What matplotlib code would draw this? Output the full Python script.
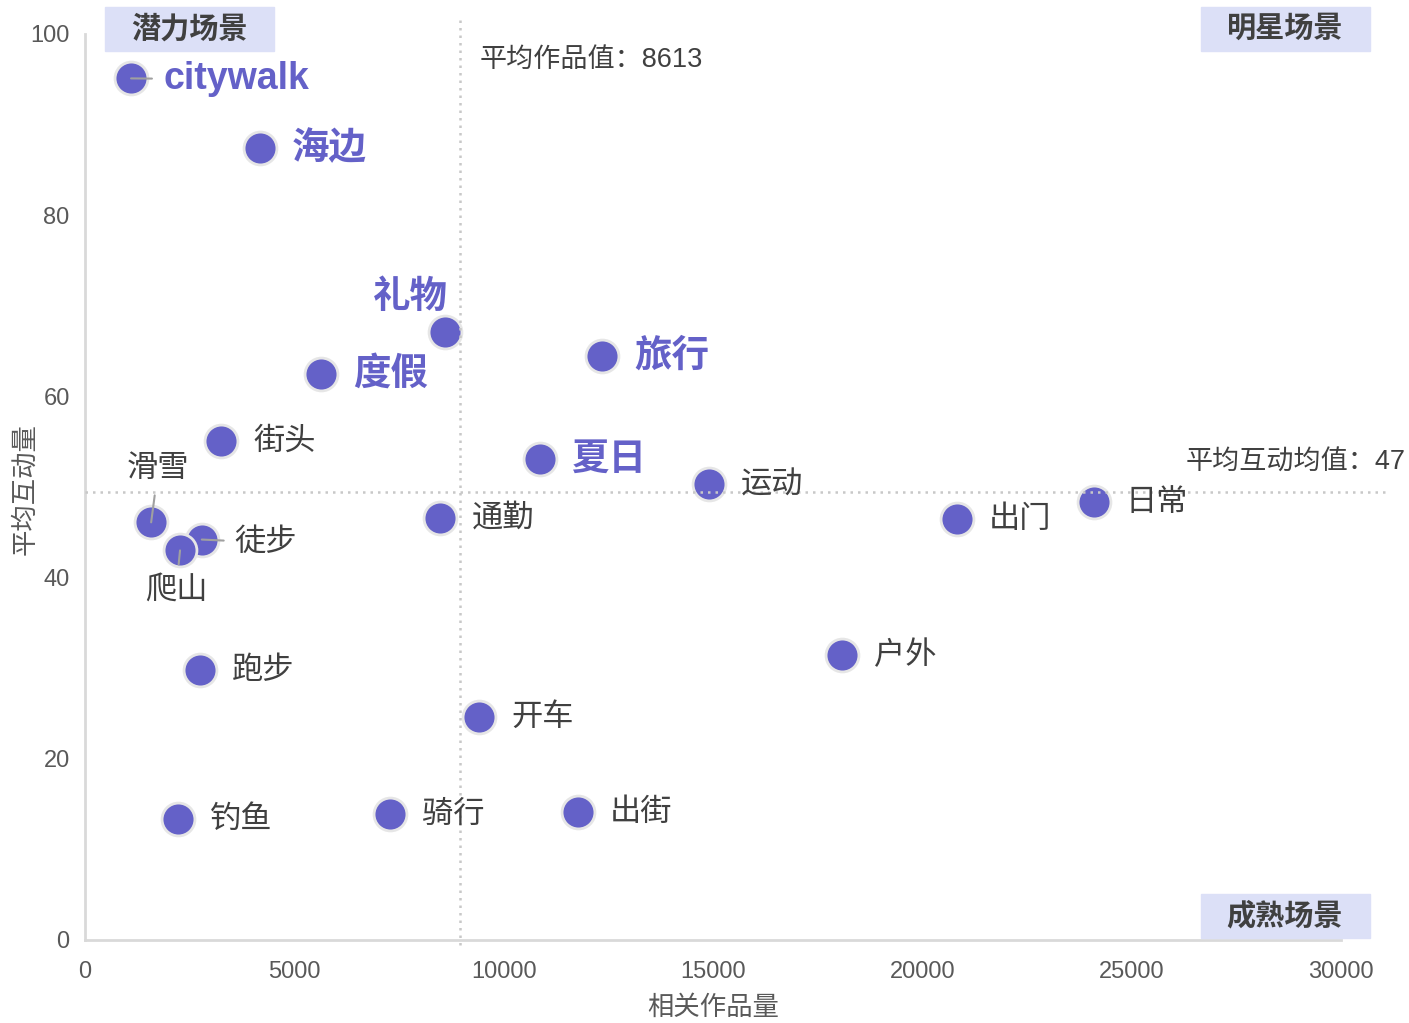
import matplotlib
matplotlib.use("Agg")
import matplotlib.pyplot as plt
from matplotlib.patches import Rectangle

plt.rcParams['font.family'] = ['Liberation Sans', 'Noto Sans CJK SC', 'DejaVu Sans']

# data
scenes = ['citywalk', '海边', '礼物', '度假', '旅行', '街头', '夏日', '运动', '日常', '出门',
          '通勤', '滑雪', '徒步', '爬山', '户外', '跑步', '开车', '钓鱼', '骑行', '出街']
works = [1100, 4180, 8600, 5640, 12350, 3250, 10870, 14900, 24100, 20830,
         8480, 1580, 2790, 2270, 18080, 2750, 9410, 2220, 7290, 11780]
engagement = [95.1, 87.4, 67.1, 62.5, 64.5, 55.1, 53.1, 50.3, 48.3, 46.5,
              46.6, 46.1, 44.2, 43.0, 31.5, 29.8, 24.6, 13.4, 13.9, 14.1]
highlight = ['citywalk', '海边', '礼物', '度假', '旅行', '夏日']

mean_works_label = 8613
mean_eng_label = 47
mean_works_line = 8960
mean_eng_line = 49.4

W, H = 1409, 1023
DOT = '#6461C8'
BOX = '#DCE0F7'
DARK = '#404040'
GREY = '#595959'

fig = plt.figure(figsize=(W / 100, H / 100), dpi=100)
ax = fig.add_axes([85 / W, 1 - 940 / H, 1256 / W, 906 / H])
ax.set_xlim(0, 30000)
ax.set_ylim(0, 100)

ax.scatter(works, engagement, s=560, color=DOT, edgecolors='#E6E6E6', linewidths=2, zorder=2)

# label offsets in pixels (dx, dy, ha, leader)
offsets = {
    '礼物': (3, 34, 'right', False),
    '滑雪': (7, 53, 'center', True),
    '爬山': (-4, -40, 'center', True),
    '徒步': (33, -3, 'left', True),
    'citywalk': (32, -1, 'left', True),
}
for name, x, y in zip(scenes, works, engagement):
    dx, dy, ha, leader = offsets.get(name, (32, -1, 'left', False))
    hot = name in highlight
    kw = dict(fontsize=27 if hot else 22.5, fontweight='bold' if hot else 'normal',
              color=DOT if hot else DARK)
    arrow = dict(arrowstyle='-', color='#A0A0A0', lw=1.5, shrinkA=6, shrinkB=0) if leader else None
    ax.annotate(name, (x, y), xytext=(dx, dy), textcoords='offset pixels',
                ha=ha, va='center', arrowprops=arrow, zorder=4, **kw)

# mean lines, drawn past the axes like the reference
ax.plot([mean_works_line] * 2, [101.5, -1.1], ls=(0, (1, 2)), color='#C8C8C8', lw=1.8,
        clip_on=False, zorder=3)
ax.plot([0, 31170], [mean_eng_line] * 2, ls=(0, (1, 2)), color='#C8C8C8', lw=1.8,
        clip_on=False, zorder=3)
fig.text(480 / W, 1 - 60 / H, f'平均作品值：{mean_works_label}', fontsize=19.5, color=DARK,
         ha='left', va='center')
fig.text(1406 / W, 1 - 463 / H, f'平均互动均值：{mean_eng_label}', fontsize=19.5, color=DARK,
         ha='right', va='center')

# quadrant tags
for label, x0, y0 in [('潜力场景', 105, 7), ('明星场景', 1201, 7), ('成熟场景', 1201, 894)]:
    fig.patches.append(Rectangle((x0 / W, 1 - (y0 + 44) / H), 169 / W, 44 / H,
                                 transform=fig.transFigure, color=BOX, zorder=0))
    fig.text((x0 + 84) / W, 1 - (y0 + 22) / H, label, fontsize=21, fontweight='bold',
             color=DARK, ha='center', va='center')

for side in ['top', 'right']:
    ax.spines[side].set_visible(False)
for side in ['left', 'bottom']:
    ax.spines[side].set_color('#D9D9D9')
    ax.spines[side].set_linewidth(2)

ax.set_xticks([0, 5000, 10000, 15000, 20000, 25000, 30000])
ax.set_yticks([0, 20, 40, 60, 80, 100])
ax.tick_params(length=0, labelsize=17, labelcolor=GREY)
ax.tick_params(axis='x', pad=15)
ax.tick_params(axis='y', pad=11)
fig.text(713 / W, 1 - 1008 / H, '相关作品量', fontsize=19, color=GREY,
         ha='center', va='center')
fig.text(25 / W, 1 - 489 / H, '平均互动量', fontsize=19, color=GREY, rotation=90,
         ha='center', va='center')

fig.savefig('out.png', dpi=100)
